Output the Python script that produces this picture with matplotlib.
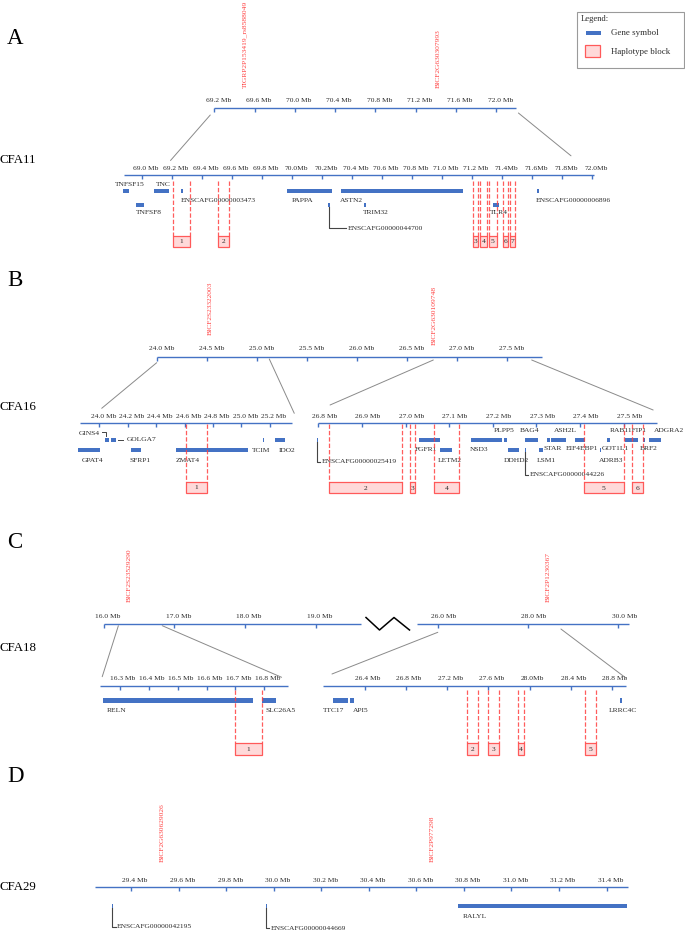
import matplotlib
matplotlib.use('Agg')
import matplotlib.pyplot as plt
from matplotlib.patches import Rectangle, ConnectionPatch

plt.rcParams['font.family'] = ['Liberation Serif', 'DejaVu Serif']

# ---------------- DATA ----------------
# Panel A (CFA11)
A_top_ticks = [69.2, 69.6, 70.0, 70.4, 70.8, 71.2, 71.6, 72.0]
A_top_ticklabels = ['69.2 Mb', '69.6 Mb', '70.0 Mb', '70.4 Mb', '70.8 Mb', '71.2 Mb', '71.6 Mb', '72.0 Mb']
A_snp_names = ['TIGRP2P153419_rs8588049', 'BICF2G630307993']
A_snp_pos = [69.498, 71.42]
A_ticks = [69.0, 69.2, 69.4, 69.6, 69.8, 70.0, 70.2, 70.4, 70.6, 70.8, 71.0, 71.2, 71.4, 71.6, 71.8, 72.0]
A_ticklabels = ['69.0 Mb', '69.2 Mb', '69.4 Mb', '69.6 Mb', '69.8 Mb', '70.0Mb', '70.2Mb', '70.4 Mb',
                '70.6 Mb', '70.8 Mb', '71.0 Mb', '71.2 Mb', '71.4Mb', '71.6Mb', '71.8Mb', '72.0Mb']
A_genes = ['TNFSF15', 'TNFSF8', 'TNC', 'ENSCAFG00000003473', 'PAPPA', 'ENSCAFG00000044700',
           'ASTN2', 'TRIM32', 'TLR4', 'ENSCAFG00000006896']
A_gene_start = [68.871, 68.960, 69.080, 69.260, 69.969, 70.238, 70.327, 70.482, 71.342, 71.631]
A_gene_end = [68.913, 69.013, 69.182, 69.275, 70.269, 70.251, 71.138, 70.493, 71.380, 71.649]
A_gene_row = [1, 2, 1, 1, 1, 2, 1, 2, 2, 1]
A_block_start = [69.209, 69.509, 71.205, 71.251, 71.313, 71.405, 71.453]
A_block_end = [69.320, 69.580, 71.238, 71.303, 71.365, 71.438, 71.490]

# Panel B (CFA16)
B_top_ticks = [24.0, 24.5, 25.0, 25.5, 26.0, 26.5, 27.0, 27.5]
B_top_ticklabels = ['24.0 Mb', '24.5 Mb', '25.0 Mb', '25.5 Mb', '26.0 Mb', '26.5 Mb', '27.0 Mb', '27.5 Mb']
B_snp_names = ['BICF2S23322003', 'BICF2G630109748']
B_snp_pos = [24.54, 26.78]
B1_ticks = [24.0, 24.2, 24.4, 24.6, 24.8, 25.0, 25.2]
B1_ticklabels = ['24.0 Mb', '24.2 Mb', '24.4 Mb', '24.6 Mb', '24.8 Mb', '25.0 Mb', '25.2 Mb']
B1_genes = ['GPAT4', 'GINS4', 'GOLGA7', 'SFRP1', 'ZMAT4', 'TCIM', 'IDO2']
B1_gene_start = [23.852, 24.038, 24.085, 24.223, 24.540, 25.150, 25.237]
B1_gene_end = [24.005, 24.066, 24.115, 24.291, 25.045, 25.160, 25.307]
B1_gene_row = [2, 1, 1, 2, 2, 1, 1]
B1_block_start = [24.611]
B1_block_end = [24.756]
B2_ticks = [26.8, 26.9, 27.0, 27.1, 27.2, 27.3, 27.4, 27.5]
B2_ticklabels = ['26.8 Mb', '26.9 Mb', '27.0 Mb', '27.1 Mb', '27.2 Mb', '27.3 Mb', '27.4 Mb', '27.5 Mb']
B2_genes = ['ENSCAFG00000025419', 'FGFR1', 'LETM2', 'NSD3', 'PLPP5', 'DDHD2', 'BAG4',
            'ENSCAFG00000044226', 'LSM1', 'STAR', 'ASH2L', 'EIF4EBP1', 'ADRB3', 'GOT1L1',
            'RAB11FIP1', 'BRF2', 'ADGRA2']
B2_gene_start = [26.796, 27.031, 27.080, 27.151, 27.226, 27.234, 27.274, 27.274, 27.306, 27.325,
                 27.334, 27.389, 27.446, 27.463, 27.503, 27.545, 27.559]
B2_gene_end = [26.800, 27.080, 27.106, 27.221, 27.232, 27.260, 27.304, 27.276, 27.316, 27.332,
               27.368, 27.412, 27.449, 27.470, 27.534, 27.549, 27.586]
B2_gene_row = [1, 1, 2, 1, 1, 2, 1, 2, 2, 1, 1, 1, 2, 1, 1, 1, 1]
B2_block_start = [26.825, 27.010, 27.065, 27.409, 27.519]
B2_block_end = [26.993, 27.022, 27.123, 27.501, 27.545]

# Panel C (CFA18)
C_topL_ticks = [16.0, 17.0, 18.0, 19.0]
C_topL_ticklabels = ['16.0 Mb', '17.0 Mb', '18.0 Mb', '19.0 Mb']
C_topR_ticks = [26.0, 28.0, 30.0]
C_topR_ticklabels = ['26.0 Mb', '28.0 Mb', '30.0 Mb']
C_snp_names = ['BICF2S23529290', 'BICF2P1230367']
C_snp_pos = [16.357, 28.45]
C1_ticks = [16.3, 16.4, 16.5, 16.6, 16.7, 16.8]
C1_ticklabels = ['16.3 Mb', '16.4 Mb', '16.5 Mb', '16.6 Mb', '16.7 Mb', '16.8 Mb']
C1_genes = ['RELN', 'SLC26A5']
C1_gene_start = [16.242, 16.792]
C1_gene_end = [16.762, 16.841]
C1_block_start = [16.700]
C1_block_end = [16.791]
C2_ticks = [26.4, 26.8, 27.2, 27.6, 28.0, 28.4, 28.8]
C2_ticklabels = ['26.4 Mb', '26.8 Mb', '27.2 Mb', '27.6 Mb', '28.0Mb', '28.4 Mb', '28.8 Mb']
C2_genes = ['TTC17', 'API5', 'LRRC4C']
C2_gene_start = [26.090, 26.251, 28.876]
C2_gene_end = [26.235, 26.293, 28.901]
C2_block_start = [27.389, 27.597, 27.885, 28.536]
C2_block_end = [27.495, 27.707, 27.950, 28.642]

# Panel D (CFA29)
D_ticks = [29.4, 29.6, 29.8, 30.0, 30.2, 30.4, 30.6, 30.8, 31.0, 31.2, 31.4]
D_ticklabels = ['29.4 Mb', '29.6 Mb', '29.8 Mb', '30.0 Mb', '30.2 Mb', '30.4 Mb', '30.6 Mb',
                '30.8 Mb', '31.0 Mb', '31.2 Mb', '31.4 Mb']
D_snp_names = ['BICF2G630629026', 'BICF2P977298']
D_snp_pos = [29.529, 30.665]
D_genes = ['ENSCAFG00000042195', 'ENSCAFG00000044669', 'RALYL']
D_gene_start = [29.318, 29.966, 30.775]
D_gene_end = [29.325, 29.972, 31.486]

# ---------------- STYLE / LAYOUT ----------------
W, H = 685, 933
BLUE = '#4472C4'
RED = '#FF4040'
PINK = '#FFD9D9'
BOXEDGE = '#FF5A5A'
GREY = '#8A8A8A'
TXT = '#2B2B2B'
FS = 5.4

fig = plt.figure(figsize=(W / 100, H / 100), dpi=100)
base = fig.add_axes([0, 0, 1, 1])
base.set_xlim(0, W)
base.set_ylim(H, 0)
base.axis('off')


class Track:
    def __init__(self, x_ref, m_ref, ppm):
        self.x_ref, self.m_ref, self.ppm = x_ref, m_ref, ppm
        ax = fig.add_axes([0, 0, 1, 1])
        ax.set_xlim(m_ref - x_ref / ppm, m_ref + (W - x_ref) / ppm)
        ax.set_ylim(H, 0)
        ax.axis('off')
        ax.patch.set_alpha(0)
        self.ax = ax

    def px(self, m):
        return self.x_ref + (m - self.m_ref) * self.ppm

    def axis(self, start, end, y, ticks, labels, dx=4, dy=7, tick_len=4):
        ax = self.ax
        ax.hlines(y, start, end, color=BLUE, lw=1.0)
        ax.vlines(ticks, y, y + tick_len, color=BLUE, lw=1.0)
        for t, lab in zip(ticks, labels):
            ax.text(t + dx / self.ppm, y - dy, lab, ha='center', va='center',
                    fontsize=FS, color=TXT)

    def snps(self, names, pos, y_bottom):
        for n, p in zip(names, pos):
            self.ax.text(p, y_bottom, n, rotation=90, ha='center', va='bottom',
                         fontsize=FS, color=RED)

    def genes(self, starts, ends, rows, row_y, h=4.2):
        for s, e, r in zip(starts, ends, rows):
            self.ax.broken_barh([(s, e - s)], (row_y[r], h), facecolors=BLUE)

    def blocks(self, starts, ends, y_top, box_top, box_bot, first=1):
        ax = self.ax
        for i, (s, e) in enumerate(zip(starts, ends)):
            ax.vlines([s, e], y_top, box_top, color=RED, lw=0.9,
                      linestyles=(0, (3.5, 1.6)), alpha=0.85)
            ax.add_patch(Rectangle((s, box_top), e - s, box_bot - box_top,
                                   facecolor=PINK, edgecolor=BOXEDGE, lw=0.9))
            ax.text((s + e) / 2, (box_top + box_bot) / 2 + 0.3, str(first + i),
                    ha='center', va='center', fontsize=FS, color=TXT)


def label(x, y, text, ha='left'):
    base.text(x, y, text, ha=ha, va='center', fontsize=FS, color=TXT)


def elbow(track, s, e, bar_bottom, y, x_label, text):
    xc = track.px((s + e) / 2)
    base.plot([xc, xc, x_label - 1.5], [bar_bottom, y, y], color='#444444', lw=0.8)
    label(x_label, y, text)


def connect(trA, mA, yA, trB, mB, yB):
    con = ConnectionPatch(xyA=(mA, yA), coordsA=trA.ax.transData,
                          xyB=(mB, yB), coordsB=trB.ax.transData,
                          color=GREY, lw=0.7)
    fig.add_artist(con)


# ---------------- PANEL A ----------------
At = Track(214.3, 69.2, 100.7)
At.axis(69.2, 72.2, 108.3, A_top_ticks, A_top_ticklabels, dx=4, dy=7.3)
At.snps(A_snp_names, A_snp_pos, 88)
Al = Track(142.0, 69.0, 150.0)
Al.axis(68.88, 72.01, 175.0, A_ticks, A_ticklabels, dx=4, dy=6)
rowA = {1: 189.2, 2: 202.6}
Al.genes(A_gene_start, A_gene_end, A_gene_row, rowA)
A_lab = {'TNFSF15': (115, 184), 'TNFSF8': (136, 213), 'TNC': (155.7, 185),
         'ENSCAFG00000003473': (181, 201), 'PAPPA': (291.7, 201), 'ASTN2': (340, 201),
         'TRIM32': (363.3, 213), 'TLR4': (490, 213), 'ENSCAFG00000006896': (536, 201)}
for g, s, e in zip(A_genes, A_gene_start, A_gene_end):
    if g in A_lab:
        label(*A_lab[g], g)
    else:
        elbow(Al, s, e, 206.8, 228.3, 348, g)
Al.blocks(A_block_start, A_block_end, 181, 235.7, 246.7)
connect(At, 69.16, 115, Al, 69.19, 160.5)
connect(At, 72.22, 113, Al, 71.86, 155.8)
base.text(7, 38, 'A', fontsize=16.5, color='black', va='center')
base.text(0, 160, 'CFA11', fontsize=9.3, color='black', va='center')

# ---------------- PANEL B ----------------
Bt = Track(156.7, 24.0, 100.0)
Bt.axis(24.0, 27.85, 357.3, B_top_ticks, B_top_ticklabels, dx=5, dy=8.5)
Bt.snps(B_snp_names[:1], B_snp_pos[:1], 335)
Bt.snps(B_snp_names[1:], B_snp_pos[1:], 345)
B1 = Track(99.3, 24.0, 142.0)
B1.axis(23.861, 25.355, 423.3, B1_ticks, B1_ticklabels, dx=4, dy=7.3)
B2 = Track(318.3, 26.8, 436.0)
B2.axis(26.8, 27.576, 423.3, B2_ticks, B2_ticklabels, dx=6, dy=7.3)
rowB = {1: 437.6, 2: 448.2}
B1.genes(B1_gene_start, B1_gene_end, B1_gene_row, rowB)
B2.genes(B2_gene_start, B2_gene_end, B2_gene_row, rowB)
B1_lab = {'GPAT4': (81.7, 461), 'GINS4': (78.3, 433.3), 'GOLGA7': (126.7, 439.6),
          'SFRP1': (129.3, 461), 'ZMAT4': (176, 461), 'TCIM': (251.7, 450.5),
          'IDO2': (278.3, 450.5)}
for g in B1_genes:
    label(*B1_lab[g], g)
# small connectors for GINS4 / GOLGA7
base.plot([102.2, 106.2, 106.2], [432.2, 432.2, 436.2], color='#444444', lw=0.7)
base.plot([118.3, 122.7], [439.6, 439.6], color='#444444', lw=0.7)
B2_lab = {'FGFR1': (415, 449.5), 'LETM2': (437.7, 461), 'NSD3': (470, 449.5),
          'PLPP5': (493.3, 430.7), 'DDHD2': (504, 460.5), 'BAG4': (520, 430.7),
          'LSM1': (536.7, 460.5), 'STAR': (544, 448.5), 'ASH2L': (554, 430.7),
          'EIF4EBP1': (566, 448.5), 'ADRB3': (598.5, 460.5), 'GOT1L1': (601.5, 448.5),
          'RAB11FIP1': (610, 430.7), 'BRF2': (640, 448.5), 'ADGRA2': (654, 430.7)}
B2_elbow = {'ENSCAFG00000025419': (441.8, 461.5, 321.7),
            'ENSCAFG00000044226': (452.4, 475, 529.3)}
for g, s, e in zip(B2_genes, B2_gene_start, B2_gene_end):
    if g in B2_lab:
        label(*B2_lab[g], g)
    else:
        bb, yy, xx = B2_elbow[g]
        elbow(B2, s, e, bb, yy, xx, g)
B1.blocks(B1_block_start, B1_block_end, 424, 481.7, 492.7, first=1)
B2.blocks(B2_block_start, B2_block_end, 424, 482.3, 493.3, first=2)
connect(Bt, 24.0, 362.7, B1, 24.017, 408.3)
connect(Bt, 25.126, 359, B1, 25.373, 413.3)
connect(Bt, 26.766, 360, B2, 26.827, 405)
connect(Bt, 27.75, 360, B2, 27.568, 410)
base.text(7, 281, 'B', fontsize=16.5, color='black', va='center')
base.text(0, 406.7, 'CFA16', fontsize=9.3, color='black', va='center')

# ---------------- PANEL C ----------------
CtL = Track(103.5, 16.0, 70.8)
CtL.axis(16.0, 19.63, 624, C_topL_ticks, C_topL_ticklabels, dx=4, dy=7.3)
CtR = Track(437.8, 26.0, 45.1)
CtR.axis(25.54, 30.24, 624, C_topR_ticks, C_topR_ticklabels, dx=6, dy=7.3)
CtL.snps(C_snp_names[:1], C_snp_pos[:1], 601.7)
CtR.snps(C_snp_names[1:], C_snp_pos[1:], 601.7)
base.plot([366, 379.5, 394, 409.5], [617.5, 630, 617.5, 630], color='black', lw=1.1)
C1 = Track(120.1, 16.3, 288.4)
C1.axis(16.232, 16.883, 686, C1_ticks, C1_ticklabels, dx=3, dy=7.3)
C2 = Track(364.9, 26.4, 102.9)
C2.axis(25.997, 28.935, 686, C2_ticks, C2_ticklabels, dx=3, dy=7.3)
rowC = {1: 698.3}
C1.genes(C1_gene_start, C1_gene_end, [1] * len(C1_genes), rowC, h=4.4)
C2.genes(C2_gene_start, C2_gene_end, [1] * len(C2_genes), rowC, h=4.4)
C_lab = {'RELN': 107, 'SLC26A5': 265.6, 'TTC17': 323.4, 'API5': 352.6, 'LRRC4C': 608.3}
for g in C1_genes + C2_genes:
    label(C_lab[g], 710.5, g)
C1.blocks(C1_block_start, C1_block_end, 690, 743.3, 755, first=1)
C2.blocks(C2_block_start, C2_block_end, 690, 743.3, 755, first=2)
connect(CtL, 16.21, 625.7, C1, 16.238, 676.7)
connect(CtL, 16.83, 625.7, C1, 16.86, 677.3)
connect(CtR, 26.0, 632.3, C2, 26.08, 674)
connect(CtR, 28.73, 629, C2, 28.94, 678.3)
base.text(7, 543, 'C', fontsize=16.5, color='black', va='center')
base.text(0, 648, 'CFA18', fontsize=9.3, color='black', va='center')

# ---------------- PANEL D ----------------
Dt = Track(131.1, 29.4, 237.7)
Dt.axis(29.249, 31.492, 887.3, D_ticks, D_ticklabels, dx=4, dy=6.6)
Dt.snps(D_snp_names, D_snp_pos, 861.7)
rowD = {1: 904.0}
Dt.genes(D_gene_start, D_gene_end, [1] * len(D_genes), rowD, h=4.3)
elbow(Dt, D_gene_start[0], D_gene_end[0], 908.3, 926.7, 117.1, D_genes[0])
elbow(Dt, D_gene_start[1], D_gene_end[1], 908.3, 928, 271, D_genes[1])
label(462.3, 916, D_genes[2])
base.text(7, 776, 'D', fontsize=16.5, color='black', va='center')
base.text(0, 886.7, 'CFA29', fontsize=9.3, color='black', va='center')

# ---------------- LEGEND ----------------
base.add_patch(Rectangle((577.3, 12.3), 106.5, 56, facecolor='white', edgecolor='#9A9A9A', lw=0.8))
base.text(580.7, 19.3, 'Legend:', fontsize=6.2, va='center', color=TXT)
base.add_patch(Rectangle((586, 31), 14.7, 3.5, facecolor=BLUE, edgecolor='none'))
base.text(610.7, 33.3, 'Gene symbol', fontsize=6.4, va='center', color=TXT)
base.add_patch(Rectangle((585, 45), 15, 11.7, facecolor=PINK, edgecolor=BOXEDGE, lw=0.9))
base.text(610.7, 52.3, 'Haplotype block', fontsize=6.4, va='center', color=TXT)

fig.savefig('out.png', dpi=100)
